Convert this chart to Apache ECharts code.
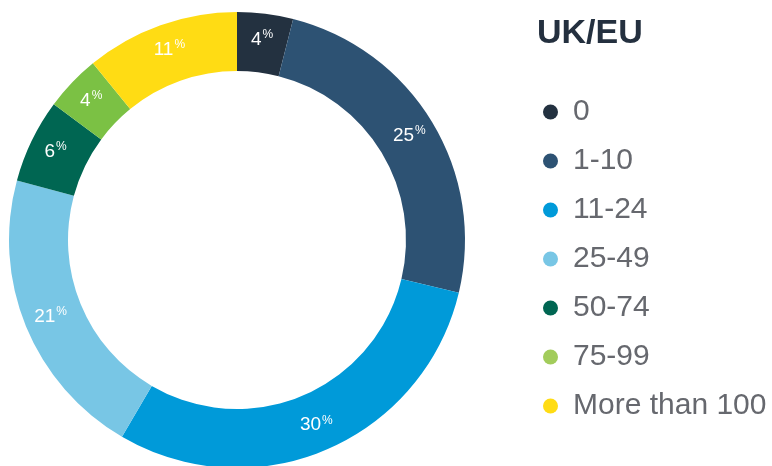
<!DOCTYPE html>
<html><head><meta charset="utf-8">
<script src="https://cdn.jsdelivr.net/npm/echarts@6/dist/echarts.min.js"></script>
<style>html,body{margin:0;padding:0;background:#fff}#c{width:772px;height:466px}</style>
</head><body><div id="c"></div>
<script>
const categories = ['0', '1-10', '11-24', '25-49', '50-74', '75-99', 'More than 100'];
const values = [4, 25, 30, 21, 6, 4, 11];
const colors = ['#233140', '#2d5273', '#009ad9', '#78c6e5', '#006652', '#7bc144', '#ffdc14'];
const legendColors = ['#233140', '#2d5273', '#009ad9', '#78c6e5', '#006652', '#a2cc5b', '#ffdc14'];
const titleText = 'UK/EU';

const chart = echarts.init(document.getElementById('c'), null, {renderer: 'canvas'});
chart.setOption({
  animation: false,
  title: {
    text: titleText, left: 532, top: 12,
    textStyle: {fontFamily: 'Liberation Sans, Arial, sans-serif', fontSize: 34, fontWeight: 'bold', color: '#24303f'}
  },
  legend: {
    orient: 'vertical', left: 538, top: 92,
    icon: 'circle', itemWidth: 15, itemHeight: 15, itemGap: 19,
    data: categories.map((c, i) => ({name: c, itemStyle: {color: legendColors[i]}})),
    textStyle: {fontFamily: 'Liberation Sans, Arial, sans-serif', fontSize: 30, lineHeight: 30, color: '#66686e', padding: [0, 0, 0, 10]}
  },
  series: [{
    type: 'pie',
    center: [237, 240],
    radius: [169, 228],
    startAngle: 90,
    clockwise: true,
    avoidLabelOverlap: false,
    data: categories.map((c, i) => ({name: c, value: values[i], itemStyle: {color: colors[i]}})),
    label: {
      show: true, position: 'inside',
      formatter: p => '{a|' + p.value + '}{b|%}',
      rich: {
        a: {fontFamily: 'Liberation Sans, Arial, sans-serif', fontSize: 19, color: '#fff', lineHeight: 20},
        b: {fontFamily: 'Liberation Sans, Arial, sans-serif', fontSize: 12, color: '#fff', lineHeight: 20, padding: [0, 0, 10, 1]}
      }
    },
    labelLine: {show: false},
    emphasis: {disabled: true}
  }]
});
</script></body></html>
